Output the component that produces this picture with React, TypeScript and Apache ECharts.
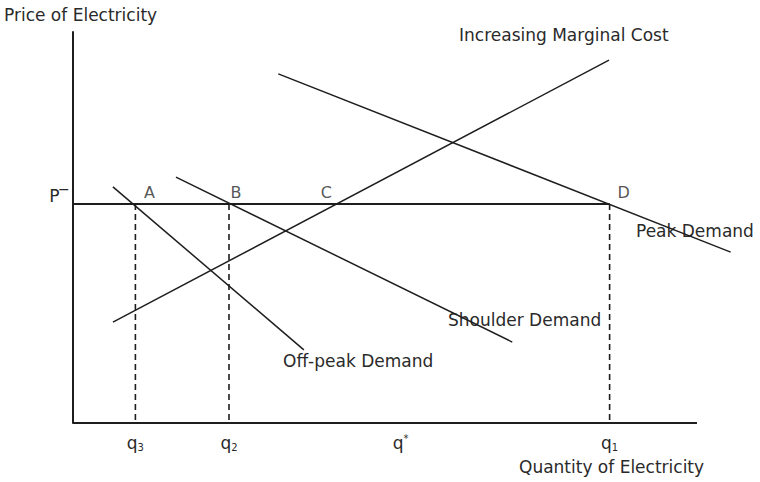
import React, { useEffect, useRef } from "react";
import * as echarts from "echarts";

// Quantity axis 0..100, price axis 0..100 (arbitrary units)
const priceLevel = 56;
const tickValues = [10, 25, 52.5, 86];
const tickLabels = ["{q|q}{s|3}", "{q|q}{s|2}", "{q|q}{t|*}", "{q|q}{s|1}"];
const dashedQuantities = [10, 25, 86];
const axisEnd = 100;

const marginalCost = [[6.4, 25.8], [85.9, 92.8]];
const peakDemand = [[32.9, 89.3], [105.4, 43.7]];
const shoulderDemand = [[16.5, 62.9], [70.4, 20.7]];
const offPeakDemand = [[6.4, 60.4], [37.0, 18.7]];

const pointNames = ["A", "B", "C", "D"];
const pointQuantities = [10, 25, 42.2, 86];

const FONT = "'DejaVu Sans'";
const INK = "#1e1e1e";
const TXT = "#2a2a2a";
const FS = 17;

export default function App() {
  const ref = useRef<HTMLDivElement>(null);
  useEffect(() => {
    if (!ref.current) return;
    const chart = echarts.init(ref.current, null, { renderer: "svg" });
    const seg = (data: number[][], extra: any = {}) => ({
      type: "line",
      data,
      symbol: "none",
      clip: false,
      silent: true,
      lineStyle: { color: INK, width: 1.5, ...extra },
    });
    const labelOffsets = [[14, 1], [7, 1], [-10, 1], [14, 1]];
    const option: any = {
      animation: false,
      backgroundColor: "#fff",
      grid: { left: 73, right: 25.6, top: 32, bottom: 59 },
      xAxis: {
        type: "value",
        min: 0,
        max: 106,
        axisLine: { show: false },
        axisTick: { show: false },
        splitLine: { show: false },
        axisLabel: {
          customValues: tickValues,
          formatter: (v: number) => tickLabels[tickValues.indexOf(v)] ?? "",
          margin: 10,
          color: TXT,
          fontFamily: FONT,
          rich: {
            q: { fontSize: 17, fontFamily: FONT, color: TXT },
            s: { fontSize: 10, fontFamily: FONT, color: TXT, padding: [9, 0, 0, 0] },
            t: { fontSize: 10, fontFamily: FONT, color: TXT, padding: [0, 0, 9, 0] },
          },
        },
      },
      yAxis: {
        type: "value",
        min: 0,
        max: 100,
        axisLine: { show: true, lineStyle: { color: INK, width: 2 } },
        axisTick: { show: false },
        splitLine: { show: false },
        axisLabel: {
          customValues: [priceLevel],
          formatter: () => "P‾",
          margin: 5,
          color: TXT,
          fontFamily: FONT,
          fontSize: FS,
          verticalAlign: "bottom",
        },
      },
      series: [
        seg([[0, 0], [axisEnd, 0]], { width: 2 }),
        seg([[0, priceLevel], [pointQuantities[3], priceLevel]], { width: 2 }),
        ...dashedQuantities.map((q) =>
          seg([[q, priceLevel], [q, 0]], { type: [6, 4], width: 1.6 })
        ),
        seg(marginalCost),
        seg(peakDemand),
        seg(shoulderDemand),
        seg(offPeakDemand),
        {
          type: "scatter",
          symbolSize: 0,
          silent: true,
          data: pointNames.map((n, i) => ({
            name: n,
            value: [pointQuantities[i], priceLevel],
            label: { offset: labelOffsets[i] },
          })),
          label: {
            show: true,
            position: "top",
            formatter: (p: any) => p.name,
            color: TXT,
            fontFamily: FONT,
            fontSize: 16,
          },
        },
      ],
      graphic: [
        { type: "text", left: 4, top: 6, style: { text: "Price of Electricity", fill: TXT, font: `${FS}px ${FONT}` } },
        { type: "text", left: 459, top: 26, style: { text: "Increasing Marginal Cost", fill: TXT, font: `${FS}px ${FONT}` } },
        { type: "text", left: 636, top: 222, style: { text: "Peak Demand", fill: TXT, font: `${FS}px ${FONT}` } },
        { type: "text", left: 448, top: 311, style: { text: "Shoulder Demand", fill: TXT, font: `${FS}px ${FONT}` } },
        { type: "text", left: 283, top: 352, style: { text: "Off-peak Demand", fill: TXT, font: `${FS}px ${FONT}` } },
        { type: "text", left: 519, top: 458, style: { text: "Quantity of Electricity", fill: TXT, font: `${FS}px ${FONT}` } },
      ],
    };
    chart.setOption(option);
    return () => chart.dispose();
  }, []);
  return <div ref={ref} style={{ width: 760, height: 482, position: "absolute", left: 0, top: 0 }} />;
}
